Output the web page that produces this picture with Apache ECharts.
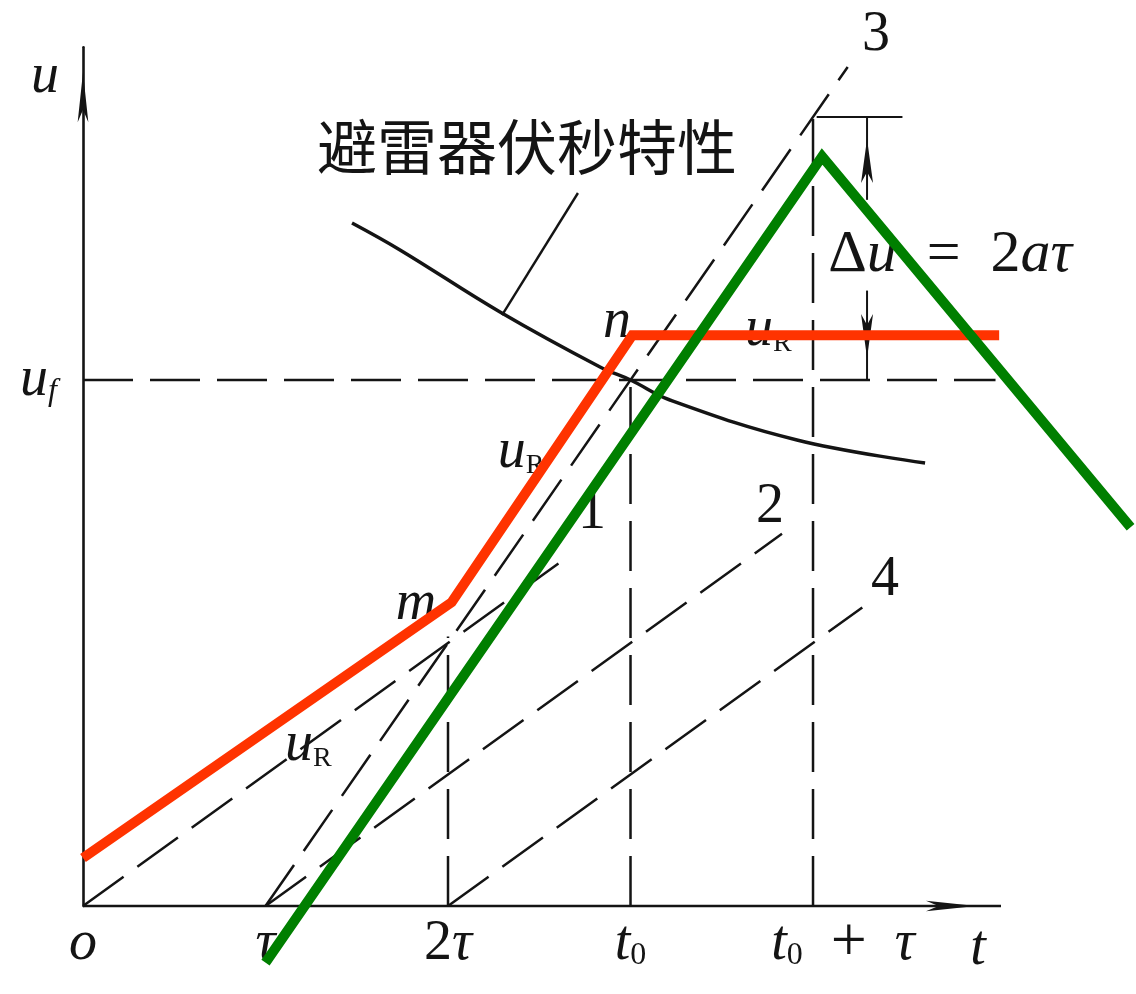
<!DOCTYPE html>
<html><head><meta charset="utf-8">
<script src="https://cdn.jsdelivr.net/npm/echarts@6/dist/echarts.min.js"></script>
<style>html,body{margin:0;padding:0;background:#fff}#c{width:1136px;height:994px}</style>
</head><body><div id="c"></div>
<script>
// ---- data (x in units of tau, y in units of a*tau) ----
const xTickValues = [0, 1, 2, 3, 4];
const xTickLabels = ['{i|o}', '{i|τ}', '{n|2}{i|τ}', '{i|t}{s0|0}', '{pad|}{i|t}{s0|0}{n|  }{pl|+}{n|  }{i|τ}'];
const ufLevel = 4;
const yTickLabel = '{i|u}{sf|f}';
const tAxisLine = [[0, 0], [5.03, 0]];
const uRPath = [[0, 0.365], [2.02, 2.31], [3.01, 4.34], [5.02, 4.34]];
const uTPath = [[1.0, -0.43], [4.05, 5.70], [5.74, 2.88]];
const line1 = [[0, 0], [2.67, 2.67]];
const line2 = [[1, 0], [3.83, 2.83]];
const line3 = [[1, 0], [4.19, 6.38]];
const line4 = [[2, 0], [4.27, 2.27]];
const ufLine = [[0, 4], [5.0, 4]];
const v2tau = [[2, 0], [2, 2.05]];
const vT0 = [[3, 0], [3, 4]];
const vT0tau = [[4, 0], [4, 6.02]];
const voltSec = [[1.474, 5.194], [1.737, 4.989], [2.285, 4.517], [2.833, 4.099], [3.0, 4.0], [3.216, 3.848], [3.912, 3.544], [4.614, 3.369]];
const leader = [[2.712, 5.422], [2.296, 4.494]];
const dTop = [[4.02, 6.0], [4.49, 6.0]];
const dUp = [[4.296, 5.37], [4.296, 6.0]];
const dDown = [[4.296, 4.68], [4.296, 4.0]];
const annTexts = ['{i|m}', '{i|n}', '{i|u}{sR|R}', '{i|u}{sR|R}', '{i|u}{sR|R}', '{n|1}', '{n|2}', '{n|3}', '{n|4}',
  '{N|Δ}{I|u}{N|  =  2}{I|aτ}', '{cn|避雷器伏秒特性}', '{i|t}'];
const annAnchors = [[1.825, 2.297], [2.926, 4.441], [1.235, 1.224], [2.40, 3.452], [3.755, 4.380],
  [2.789, 2.989], [3.764, 3.034], [4.345, 6.624], [4.395, 2.479], [4.751, 4.951], [2.433, 5.772], [4.904, -0.33]];

const ink = '#141414';
const serif = 'Liberation Serif';
const rich = {
  i: {fontFamily: serif, fontStyle: 'italic', fontSize: 56, color: ink},
  n: {fontFamily: serif, fontSize: 56, color: ink},
  I: {fontFamily: serif, fontStyle: 'italic', fontSize: 60, color: ink},
  N: {fontFamily: serif, fontSize: 60, color: ink},
  pl: {fontFamily: serif, fontSize: 64, lineHeight: 56, color: ink},
  s0: {fontFamily: serif, fontSize: 32, color: ink, verticalAlign: 'bottom'},
  sf: {fontFamily: serif, fontStyle: 'italic', fontSize: 32, color: ink, verticalAlign: 'bottom'},
  sR: {fontFamily: serif, fontSize: 28, color: ink, verticalAlign: 'bottom'},
  pad: {width: 60},
  cn: {fontFamily: 'Noto Sans CJK SC', fontSize: 60, color: ink}
};

function dashed(data, w) {
  return {type: 'line', data: data, symbol: 'none', clip: false, silent: true, z: 3,
    lineStyle: {color: ink, width: w || 2.5, type: [50, 17]}};
}
function solid(data, w, extra) {
  return Object.assign({type: 'line', data: data, symbol: 'none', clip: false, silent: true, z: 3,
    lineStyle: {color: ink, width: w}}, extra || {});
}

const chart = echarts.init(document.getElementById('c'), null, {renderer: 'canvas'});
chart.setOption({
  animation: false,
  backgroundColor: '#fff',
  grid: {left: 83, top: 47.3, width: 1049.4, height: 858.7, containLabel: false},
  xAxis: {
    type: 'value', min: 0, max: 5.75, interval: 1,
    axisLine: {show: false},
    axisTick: {show: false}, splitLine: {show: false},
    axisLabel: {
      margin: 10, showMaxLabel: false,
      formatter: function (v) { const k = xTickValues.indexOf(Math.round(v * 1000) / 1000); return k >= 0 ? xTickLabels[k] : ''; },
      rich: rich
    }
  },
  yAxis: {
    type: 'value', min: 0, max: 6.53, interval: 1,
    axisLine: {show: true, onZero: false, lineStyle: {color: ink, width: 2.6},
      symbol: ['none', 'arrow'], symbolSize: [8, 50], symbolOffset: [0, -25]},
    axisTick: {show: false}, splitLine: {show: false},
    axisLabel: {margin: 26, formatter: function (v) { return v === ufLevel ? yTickLabel : ''; }, rich: rich},
    name: 'u', nameLocation: 'end', nameGap: -30,
    nameTextStyle: {fontFamily: serif, fontStyle: 'italic', fontSize: 56, color: ink, align: 'right', verticalAlign: 'middle', padding: [0, 24, 0, 0]}
  },
  series: [
    {type: 'line', data: [{value: tAxisLine[0], symbol: 'none'}, {value: tAxisLine[1], symbol: 'arrow', symbolSize: [8, 50], symbolRotate: -90, symbolOffset: [-25, 0]}],
      clip: false, silent: true, z: 4, lineStyle: {color: ink, width: 2.6}, itemStyle: {color: ink, opacity: 1}},
    dashed(ufLine), dashed(line1), dashed(line2), dashed(line3), dashed(line4),
    dashed(v2tau), dashed(vT0), dashed(vT0tau),
    solid(voltSec, 3.5, {smooth: 0.4}),
    solid(leader, 2.4),
    solid(dTop, 2),
    {type: 'line', data: [{value: dUp[0], symbol: 'none'}, {value: dUp[1], symbol: 'arrow', symbolSize: [9, 44], symbolOffset: [0, 22]}],
      clip: false, silent: true, z: 3, lineStyle: {color: ink, width: 2}, itemStyle: {color: ink, opacity: 1}},
    {type: 'line', data: [{value: dDown[0], symbol: 'none'}, {value: dDown[1], symbol: 'arrow', symbolSize: [9, 44], symbolRotate: 180, symbolOffset: [0, -22]}],
      clip: false, silent: true, z: 3, lineStyle: {color: ink, width: 2}, itemStyle: {color: ink, opacity: 1}},
    {type: 'line', data: uRPath, symbol: 'none', clip: false, silent: true, z: 10,
      lineStyle: {color: '#ff3300', width: 10, join: 'miter', cap: 'butt'}},
    {type: 'line', data: uTPath, symbol: 'none', clip: false, silent: true, z: 11,
      lineStyle: {color: '#007f00', width: 10, join: 'miter', cap: 'butt'}},
    {type: 'scatter', data: annAnchors, symbolSize: 0, clip: false, silent: true, z: 5,
      itemStyle: {opacity: 1},
      label: {show: true, position: 'inside', opacity: 1, formatter: function (p) { return annTexts[p.dataIndex]; }, rich: rich}}
  ]
});
</script></body></html>
